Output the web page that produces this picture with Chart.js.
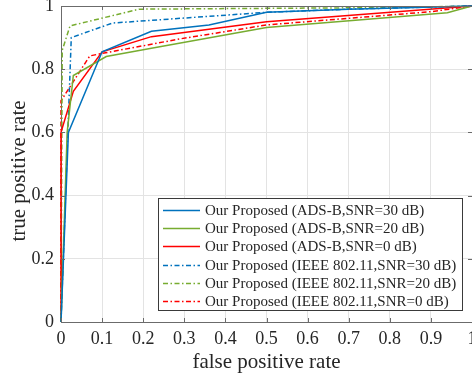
<!DOCTYPE html>
<html>
<head>
<meta charset="utf-8">
<script src="https://cdn.jsdelivr.net/npm/chart.js@4.4.1/dist/chart.umd.min.js"></script>
<style>
  html, body { margin: 0; padding: 0; background: #ffffff; }
  #wrap { width: 472px; height: 381px; }
</style>
</head>
<body>
<div id="wrap"><canvas id="c" width="472" height="381"></canvas></div>
<script>
// ---- data ----
const seriesLabels = [
  'Our Proposed (ADS-B,SNR=30 dB)',
  'Our Proposed (ADS-B,SNR=20 dB)',
  'Our Proposed (ADS-B,SNR=0 dB)',
  'Our Proposed (IEEE 802.11,SNR=30 dB)',
  'Our Proposed (IEEE 802.11,SNR=20 dB)',
  'Our Proposed (IEEE 802.11,SNR=0 dB)'
];
const adsb30X = [0, 0.018, 0.1, 0.22, 0.36, 0.5, 0.7, 1];
const adsb30Y = [0, 0.6, 0.855, 0.92, 0.94, 0.98, 0.99, 1];
const adsb20X = [0, 0.015, 0.03, 0.11, 0.22, 0.5, 0.94, 1];
const adsb20Y = [0, 0.6, 0.78, 0.84, 0.866, 0.932, 0.979, 1];
const adsb0X  = [0, 0, 0.03, 0.1, 0.22, 0.5, 1];
const adsb0Y  = [0, 0.6, 0.73, 0.855, 0.903, 0.95, 1];
const ieee30X = [0, 0.025, 0.125, 0.5, 0.7, 1];
const ieee30Y = [0, 0.9, 0.946, 0.98, 0.99, 1];
const ieee20X = [0, 0.003, 0.022, 0.19, 0.8, 1];
const ieee20Y = [0, 0.86, 0.937, 0.99, 0.995, 1];
const ieee0X  = [0, 0, 0.07, 0.1, 0.29, 0.5, 0.9, 1];
const ieee0Y  = [0, 0.7, 0.842, 0.85, 0.896, 0.94, 0.982, 1];

const xTickValues = [0, 0.1, 0.2, 0.3, 0.4, 0.5, 0.6, 0.7, 0.8, 0.9, 1];
const xTickLabels = ['0', '0.1', '0.2', '0.3', '0.4', '0.5', '0.6', '0.7', '0.8', '0.9', '1'];
const yTickValues = [0, 0.2, 0.4, 0.6, 0.8, 1];
const yTickLabels = ['0', '0.2', '0.4', '0.6', '0.8', '1'];
const xTitle = 'false positive rate';
const yTitle = 'true positive rate';

// ---- styles ----
const BLUE = '#0072BD', GREEN = '#77AC30', RED = '#FF0000';
const DASHDOT = [5, 2.5, 1.5, 2.5];
const FONT = "'Liberation Serif', 'Times New Roman', serif";
const TEXT = '#262626';

function pts(xs, ys) { return xs.map((x, i) => ({ x: x, y: ys[i] })); }

const seriesX = [adsb30X, adsb20X, adsb0X, ieee30X, ieee20X, ieee0X];
const seriesY = [adsb30Y, adsb20Y, adsb0Y, ieee30Y, ieee20Y, ieee0Y];
const colors = [BLUE, GREEN, RED, BLUE, GREEN, RED];
const dashes = [[], [], [], DASHDOT, DASHDOT, DASHDOT];

const datasets = seriesLabels.map((lab, i) => ({
  label: lab,
  data: pts(seriesX[i], seriesY[i]),
  showLine: true,
  borderColor: colors[i],
  backgroundColor: colors[i],
  borderWidth: 1.5,
  borderDash: dashes[i],
  pointRadius: 0,
  pointHoverRadius: 0,
  fill: false,
  tension: 0,
  clip: 3
}));

function zeroPad(s) {
  s.paddingLeft = 0; s.paddingRight = 0; s.paddingTop = 0; s.paddingBottom = 0;
}

const decor = {
  id: 'decor',
  afterDatasetsDraw(chart) {
    const ctx = chart.ctx, a = chart.chartArea;
    const xs = chart.scales.x, ys = chart.scales.y;
    ctx.save();
    // frame top line
    ctx.strokeStyle = '#6b6b6b';
    ctx.lineWidth = 1;
    ctx.beginPath();
    ctx.moveTo(a.left, Math.round(a.top) + 0.5);
    ctx.lineTo(a.right, Math.round(a.top) + 0.5);
    ctx.stroke();
    // inward tick marks
    ctx.beginPath();
    xTickValues.forEach(v => {
      const px = Math.round(xs.getPixelForValue(v)) + 0.5;
      ctx.moveTo(px, a.bottom); ctx.lineTo(px, a.bottom - 4);
      ctx.moveTo(px, a.top); ctx.lineTo(px, a.top + 4);
    });
    yTickValues.forEach(v => {
      const py = Math.round(ys.getPixelForValue(v)) + 0.5;
      ctx.moveTo(a.left, py); ctx.lineTo(a.left + 4, py);
      ctx.moveTo(a.right, py); ctx.lineTo(a.right - 4, py);
    });
    ctx.stroke();

    // y title
    ctx.fillStyle = TEXT;
    ctx.font = '21px ' + FONT;
    ctx.textAlign = 'center';
    ctx.textBaseline = 'middle';
    ctx.translate(19, 171);
    ctx.rotate(-Math.PI / 2);
    ctx.fillText(yTitle, 0, 0);
    ctx.setTransform(1, 0, 0, 1, 0, 0);

    // legend box
    const L = 158, T = 198, R = 462, B = 310;
    ctx.fillStyle = '#ffffff';
    ctx.fillRect(L, T, R - L, B - T);
    ctx.strokeStyle = '#3a3a3a';
    ctx.lineWidth = 1;
    ctx.strokeRect(L + 0.5, T + 0.5, R - L, B - T);
    ctx.font = '15px ' + FONT;
    ctx.textAlign = 'left';
    ctx.textBaseline = 'middle';
    chart.data.datasets.forEach((ds, i) => {
      const cy = 210 + i * 18.2;
      ctx.strokeStyle = ds.borderColor;
      ctx.lineWidth = 1.5;
      ctx.setLineDash(ds.borderDash || []);
      ctx.beginPath();
      ctx.moveTo(163, Math.round(cy) + 0.5);
      ctx.lineTo(200, Math.round(cy) + 0.5);
      ctx.stroke();
      ctx.setLineDash([]);
      ctx.fillStyle = TEXT;
      ctx.fillText(ds.label, 205, cy + 1);
    });
    ctx.restore();
  }
};

new Chart(document.getElementById('c'), {
  type: 'scatter',
  data: { datasets: datasets },
  options: {
    responsive: false,
    animation: false,
    devicePixelRatio: 1,
    layout: { padding: { left: 0, top: 6, right: -1, bottom: 0 }, autoPadding: false },
    plugins: { legend: { display: false }, tooltip: { enabled: false } },
    scales: {
      x: {
        type: 'linear', min: 0, max: 1,
        afterBuildTicks: s => { s.ticks = xTickValues.map(v => ({ value: v })); },
        afterFit: s => { s.height = 59; zeroPad(s); },
        ticks: {
          callback: (v, i) => xTickLabels[i],
          font: { family: FONT, size: 18 }, color: TEXT, padding: 6,
          maxRotation: 0, autoSkip: false
        },
        grid: { color: '#e3e3e3', lineWidth: 1, drawTicks: false },
        border: { display: true, color: '#6b6b6b', width: 1 },
        title: {
          display: true, text: xTitle, color: TEXT,
          font: { family: FONT, size: 21 }, padding: { top: 0, bottom: 6 }
        }
      },
      y: {
        type: 'linear', min: 0, max: 1,
        afterBuildTicks: s => { s.ticks = yTickValues.map(v => ({ value: v })); },
        afterFit: s => { s.width = 61; zeroPad(s); },
        ticks: {
          callback: (v, i) => yTickLabels[i],
          font: { family: FONT, size: 18 }, color: TEXT, padding: 7
        },
        grid: { color: '#e3e3e3', lineWidth: 1, drawTicks: false },
        border: { display: true, color: '#6b6b6b', width: 1 },
        title: { display: false }
      }
    }
  },
  plugins: [decor]
});
</script>
</body>
</html>
